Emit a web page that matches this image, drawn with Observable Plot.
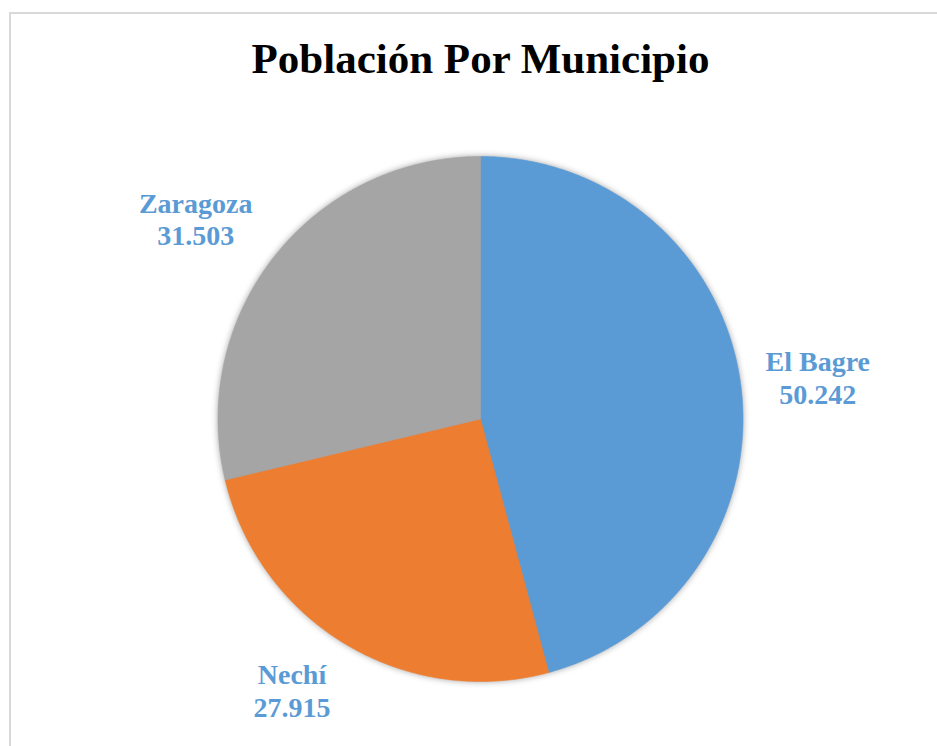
<!DOCTYPE html>
<html>
<head>
<meta charset="utf-8">
<script src="https://cdn.jsdelivr.net/npm/d3@7"></script>
<script src="https://cdn.jsdelivr.net/npm/@observablehq/plot@0.6"></script>
<style>
  html, body { margin: 0; padding: 0; background: #fff; overflow: hidden; }
  #wrap { position: relative; width: 937px; height: 746px; overflow: hidden; }
  #frame { position: absolute; left: 9px; top: 12px; width: 2000px; height: 2000px;
           border-left: 2px solid #d9d9d9; border-top: 2px solid #d9d9d9; pointer-events: none; }
  #wrap svg g.slices { filter: drop-shadow(0px 0px 3px rgba(0,0,0,0.35)); }
</style>
</head>
<body>
<div id="wrap"><div id="frame"></div></div>
<script>
const title = "Población Por Municipio";
const municipios = ["El Bagre", "Nechí", "Zaragoza"];
const poblacion = [50242, 27915, 31503];
const colores = ["#5B9BD5", "#ED7D31", "#A5A5A5"];
const labelColor = "#5B9BD5";

const fmt = d3.formatLocale({decimal: ",", thousands: ".", grouping: [3], currency: ["", ""]}).format(",d");
const total = d3.sum(poblacion);

// slice angles (clockwise from 12 o'clock)
let acc = 0;
const slices = municipios.map((m, i) => {
  const a0 = acc / total * 2 * Math.PI;
  acc += poblacion[i];
  const a1 = acc / total * 2 * Math.PI;
  return {m, v: poblacion[i], a0, a1, mid: (a0 + a1) / 2};
});

// polygon points for each slice on a unit circle
const pts = [];
for (const s of slices) {
  pts.push({m: s.m, x: 0, y: 0});
  const n = Math.max(2, Math.ceil((s.a1 - s.a0) / (Math.PI / 360)));
  for (let k = 0; k <= n; k++) {
    const a = s.a0 + (s.a1 - s.a0) * k / n;
    pts.push({m: s.m, x: Math.sin(a), y: Math.cos(a)});
  }
  pts.push({m: s.m, x: 0, y: 0});
}

const R = 262.5, cx = 480, cy = 418.5, W = 937, H = 746;
const serif = "'Liberation Serif', 'Times New Roman', Times, serif";

// label anchors along each slice's mid-angle, outside the pie
const labelR = 1.3;
const labels = slices.map(s => ({
  m: s.m,
  x: labelR * Math.sin(s.mid),
  y: labelR * Math.cos(s.mid),
  text: `${s.m}\n${fmt(s.v)}`
}));
const nudge = {"El Bagre": [-1, 3], "Nechí": [-14, -22], "Zaragoza": [-17, 11]};

const labelMarks = labels.map(l => Plot.text([l], {
  x: "x", y: "y", text: "text",
  fill: labelColor, fontFamily: serif, fontWeight: "bold", fontSize: 28,
  lineHeight: 1.15, textAnchor: "middle",
  dx: nudge[l.m][0], dy: nudge[l.m][1]
}));

const chart = Plot.plot({
  width: W, height: H,
  marginTop: 0, marginBottom: 0, marginLeft: 0, marginRight: 0,
  x: {domain: [-cx / R, (W - cx) / R], axis: null},
  y: {domain: [-(H - cy) / R, cy / R], axis: null},
  color: {domain: municipios, range: colores},
  style: {background: "transparent", overflow: "visible"},
  marks: [
    Plot.line(pts, {x: "x", y: "y", z: "m", fill: "m", stroke: "m", strokeWidth: 0.6,
                    curve: "linear", className: "slices"}),
    ...labelMarks,
    Plot.text([title], {
      frameAnchor: "top", lineAnchor: "bottom", dx: 11.5, dy: 72,
      fill: "#000", fontFamily: serif, fontWeight: "bold", fontSize: 43
    })
  ]
});
chart.style.position = "absolute";
chart.style.left = "0px";
chart.style.top = "0px";
document.getElementById("wrap").prepend(chart);
</script>
</body>
</html>
